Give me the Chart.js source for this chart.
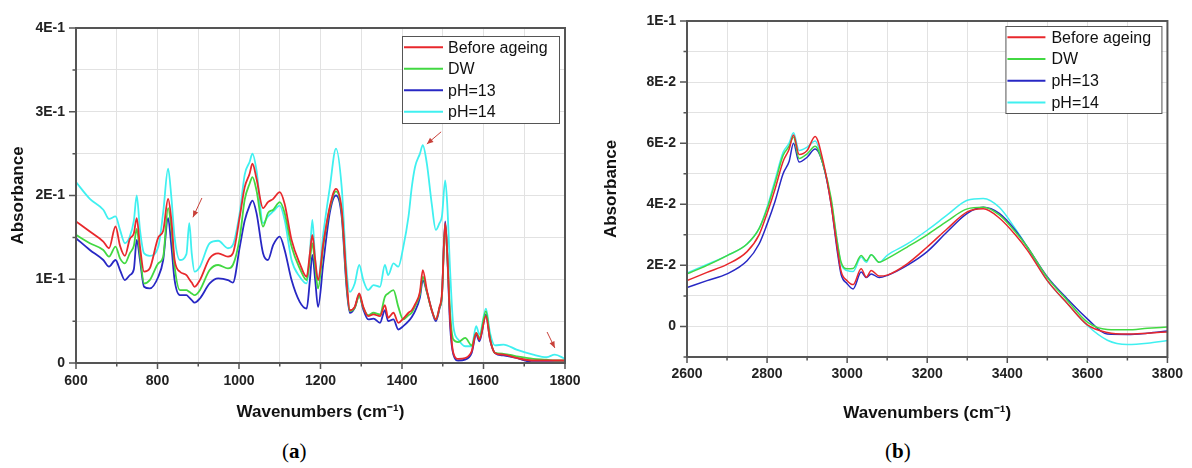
<!DOCTYPE html>
<html>
<head>
<meta charset="utf-8">
<script src="https://cdn.jsdelivr.net/npm/chart.js@4"></script>
<style>
  body { margin: 0; background: #fff; width: 1192px; height: 468px; position: relative; overflow: hidden; }
  canvas { position: absolute; top: 0; }
  #chartA { left: 0; }
  #chartB { left: 596px; }
  .cap { position: absolute; top: 439px; font-family: "Liberation Serif", "DejaVu Serif", serif; font-size: 21px; color: #000; }
</style>
</head>
<body>
<canvas id="chartA" width="596" height="430"></canvas>
<canvas id="chartB" width="596" height="430"></canvas>
<div class="cap" style="left:282px">(<b>a</b>)</div>
<div class="cap" style="left:885px">(<b>b</b>)</div>
<script>
// --- panel (a): 600-1800 cm-1 ---
const wnA = [600, 634, 667, 681, 697, 708, 720, 732, 742, 749, 757, 767, 781, 802, 814, 826, 834, 842, 855, 871,
  878, 884, 891, 904, 928, 949, 973, 985, 1002, 1014, 1026, 1033, 1043, 1059, 1071, 1084, 1100, 1112, 1129, 1149,
  1166, 1174, 1180, 1187, 1194, 1207, 1223, 1238, 1252, 1264, 1272, 1284, 1295, 1305, 1317, 1330, 1346, 1358, 1366, 1379,
  1391, 1403, 1416, 1424, 1432, 1444, 1451, 1461, 1473, 1483, 1492, 1498, 1506, 1511, 1518, 1526, 1538, 1555, 1571, 1582,
  1590, 1606, 1616, 1628, 1649, 1681, 1722, 1755, 1775, 1800];
const beforeA = [0.169, 0.157, 0.145, 0.137, 0.163, 0.140, 0.128, 0.148, 0.155, 0.173, 0.139, 0.109, 0.113, 0.150, 0.158, 0.196, 0.171, 0.123, 0.109, 0.105,
  0.100, 0.096, 0.091, 0.099, 0.125, 0.131, 0.127, 0.131, 0.175, 0.210, 0.226, 0.238, 0.220, 0.185, 0.192, 0.196, 0.204, 0.190, 0.147, 0.119,
  0.103, 0.131, 0.153, 0.123, 0.099, 0.143, 0.187, 0.208, 0.183, 0.099, 0.063, 0.067, 0.083, 0.067, 0.056, 0.058, 0.056, 0.069, 0.054, 0.060,
  0.048, 0.053, 0.060, 0.063, 0.070, 0.085, 0.111, 0.087, 0.063, 0.052, 0.067, 0.083, 0.167, 0.131, 0.052, 0.012, 0.005, 0.006, 0.014, 0.036,
  0.028, 0.056, 0.028, 0.012, 0.010, 0.006, 0.003, 0.003, 0.003, 0.003];
const dwA = [0.153, 0.143, 0.135, 0.127, 0.139, 0.125, 0.119, 0.131, 0.140, 0.160, 0.130, 0.095, 0.099, 0.119, 0.127, 0.185, 0.160, 0.115, 0.087, 0.087,
  0.085, 0.083, 0.081, 0.087, 0.111, 0.117, 0.113, 0.117, 0.150, 0.195, 0.214, 0.222, 0.206, 0.163, 0.179, 0.183, 0.192, 0.179, 0.139, 0.113,
  0.099, 0.123, 0.143, 0.115, 0.089, 0.140, 0.185, 0.205, 0.180, 0.095, 0.062, 0.066, 0.080, 0.066, 0.057, 0.060, 0.058, 0.079, 0.083, 0.087,
  0.067, 0.052, 0.057, 0.060, 0.068, 0.082, 0.103, 0.085, 0.063, 0.052, 0.066, 0.080, 0.165, 0.130, 0.060, 0.028, 0.025, 0.030, 0.021, 0.036,
  0.030, 0.062, 0.030, 0.012, 0.011, 0.008, 0.005, 0.004, 0.003, 0.003];
const ph13A = [0.149, 0.135, 0.123, 0.115, 0.123, 0.111, 0.099, 0.105, 0.112, 0.147, 0.123, 0.091, 0.089, 0.103, 0.123, 0.173, 0.140, 0.099, 0.081, 0.081,
  0.078, 0.075, 0.072, 0.077, 0.095, 0.101, 0.099, 0.096, 0.139, 0.170, 0.188, 0.194, 0.179, 0.131, 0.123, 0.141, 0.151, 0.135, 0.099, 0.073,
  0.065, 0.099, 0.129, 0.099, 0.067, 0.120, 0.180, 0.200, 0.175, 0.090, 0.060, 0.066, 0.081, 0.064, 0.052, 0.053, 0.048, 0.063, 0.050, 0.052,
  0.040, 0.044, 0.050, 0.055, 0.062, 0.078, 0.099, 0.085, 0.063, 0.050, 0.065, 0.080, 0.169, 0.130, 0.045, 0.010, 0.003, 0.004, 0.012, 0.034,
  0.026, 0.058, 0.028, 0.012, 0.009, 0.006, 0.001, 0.001, 0.001, 0.001];
const ph14A = [0.216, 0.196, 0.183, 0.172, 0.175, 0.159, 0.143, 0.151, 0.170, 0.200, 0.159, 0.131, 0.128, 0.139, 0.180, 0.232, 0.198, 0.150, 0.123, 0.130,
  0.167, 0.131, 0.109, 0.115, 0.143, 0.146, 0.137, 0.141, 0.180, 0.225, 0.240, 0.250, 0.230, 0.167, 0.175, 0.181, 0.188, 0.171, 0.123, 0.103,
  0.095, 0.131, 0.171, 0.123, 0.099, 0.155, 0.210, 0.256, 0.210, 0.111, 0.085, 0.095, 0.117, 0.099, 0.087, 0.093, 0.091, 0.117, 0.105, 0.119,
  0.115, 0.138, 0.175, 0.210, 0.234, 0.250, 0.260, 0.238, 0.190, 0.159, 0.167, 0.175, 0.218, 0.190, 0.111, 0.044, 0.028, 0.020, 0.020, 0.044,
  0.034, 0.065, 0.036, 0.021, 0.022, 0.016, 0.010, 0.007, 0.010, 0.005];

// --- panel (b): 2600-3800 cm-1 ---
const wnB = [2600, 2650, 2700, 2750, 2780, 2800, 2820, 2840, 2855, 2866, 2880, 2900, 2920, 2940, 2960, 2975, 2985, 3000, 3015, 3035,
  3048, 3060, 3080, 3100, 3150, 3200, 3250, 3300, 3340, 3380, 3420, 3450, 3500, 3550, 3600, 3650, 3700, 3750, 3800];
const beforeB = [0.0150, 0.0177, 0.0203, 0.0245, 0.0300, 0.0370, 0.0450, 0.0540, 0.0580, 0.0627, 0.0563, 0.0576, 0.0622, 0.0540, 0.0400, 0.0260, 0.0180, 0.0150, 0.0137, 0.0189,
  0.0161, 0.0183, 0.0165, 0.0168, 0.0205, 0.0260, 0.0320, 0.0375, 0.0385, 0.0355, 0.0300, 0.0250, 0.0150, 0.0075, 0.0005, -0.0020, -0.0025, -0.0022, -0.0018];
const dwB = [0.0172, 0.0200, 0.0232, 0.0270, 0.0320, 0.0385, 0.0470, 0.0560, 0.0590, 0.0620, 0.0550, 0.0565, 0.0590, 0.0530, 0.0420, 0.0280, 0.0210, 0.0189, 0.0190, 0.0232,
  0.0215, 0.0235, 0.0210, 0.0222, 0.0260, 0.0300, 0.0345, 0.0385, 0.0390, 0.0365, 0.0310, 0.0260, 0.0160, 0.0085, 0.0014, -0.0010, -0.0011, -0.0006, -0.0002];
const ph13B = [0.0127, 0.0150, 0.0172, 0.0215, 0.0270, 0.0335, 0.0410, 0.0500, 0.0540, 0.0600, 0.0538, 0.0554, 0.0581, 0.0530, 0.0400, 0.0250, 0.0170, 0.0140, 0.0123, 0.0178,
  0.0160, 0.0172, 0.0160, 0.0167, 0.0200, 0.0245, 0.0310, 0.0370, 0.0390, 0.0370, 0.0315, 0.0260, 0.0162, 0.0090, 0.0025, -0.0025, -0.0026, -0.0022, -0.0015];
const ph14B = [0.0175, 0.0203, 0.0232, 0.0270, 0.0320, 0.0390, 0.0480, 0.0570, 0.0600, 0.0634, 0.0576, 0.0587, 0.0607, 0.0530, 0.0410, 0.0280, 0.0205, 0.0183, 0.0180, 0.0227,
  0.0210, 0.0235, 0.0210, 0.0233, 0.0270, 0.0315, 0.0365, 0.0413, 0.0419, 0.0390, 0.0320, 0.0260, 0.0150, 0.0075, 0.0003, -0.0045, -0.0059, -0.0055, -0.0046];

const seriesNames = ['Before ageing', 'DW', 'pH=13', 'pH=14'];
const seriesColors = ['#e8282c', '#42d842', '#2828c4', '#40f0f0'];

const xTicksA = [600, 800, 1000, 1200, 1400, 1600, 1800];
const yTicksA = [0, 0.1, 0.2, 0.3, 0.4];
const yLabelsA = ['0', '1E-1', '2E-1', '3E-1', '4E-1'];
const xTicksB = [2600, 2800, 3000, 3200, 3400, 3600, 3800];
const yTicksB = [0, 0.02, 0.04, 0.06, 0.08, 0.1];
const yLabelsB = ['0', '2E-2', '4E-2', '6E-2', '8E-2', '1E-1'];

// red arrows in panel (a): [fromX, fromY, toX, toY] in data units
const arrowsA = [[909, 0.197, 887, 0.174], [1496, 0.276, 1461, 0.2615], [1756, 0.037, 1775, 0.018]];

function labelFor(v, ticks, labels) {
    const i = ticks.findIndex(t => Math.abs(t - v) < 1e-9);
    return i < 0 ? '' : labels[i];
}

// frame + outward major/minor tick marks
const frameTicks = {
    id: 'frameTicks',
    afterDatasetsDraw(chart) {
        const { ctx, chartArea: a, scales: { x, y } } = chart;
        ctx.save();
        ctx.strokeStyle = '#555';
        ctx.lineWidth = 1.5;
        ctx.beginPath();
        x.ticks.forEach(t => {
            const p = x.getPixelForValue(t.value);
            ctx.moveTo(p, a.bottom);
            ctx.lineTo(p, a.bottom + (t.label ? 6 : 3.5));
        });
        y.ticks.forEach(t => {
            const p = y.getPixelForValue(t.value);
            ctx.moveTo(a.left, p);
            ctx.lineTo(a.left - (t.label ? 7 : 3.5), p);
        });
        ctx.stroke();
        ctx.lineWidth = 2;
        ctx.strokeRect(a.left, a.top, a.right - a.left, a.bottom - a.top);
        ctx.restore();
    }
};

// boxed legend inside the plot, top right
const boxLegend = {
    id: 'boxLegend',
    afterDraw(chart, args, o) {
        const { ctx, chartArea: a } = chart;
        const x0 = a.right - o.right - o.width, y0 = a.top + o.top;
        ctx.save();
        ctx.fillStyle = '#fff';
        ctx.fillRect(x0, y0, o.width, o.height);
        ctx.strokeStyle = '#555';
        ctx.lineWidth = 1;
        ctx.strokeRect(x0 + 0.5, y0 + 0.5, o.width, o.height);
        ctx.font = '16px "Liberation Sans", Arial, sans-serif';
        ctx.textBaseline = 'middle';
        chart.data.datasets.forEach((ds, i) => {
            const yy = y0 + o.first + i * o.row;
            ctx.strokeStyle = ds.borderColor;
            ctx.lineWidth = 2;
            ctx.beginPath();
            ctx.moveTo(x0 + 2, yy);
            ctx.lineTo(x0 + 2 + o.line, yy);
            ctx.stroke();
            ctx.fillStyle = '#111';
            ctx.fillText(ds.label, x0 + o.text, yy + 1);
        });
        ctx.restore();
    }
};

const arrowNotes = {
    id: 'arrowNotes',
    afterDatasetsDraw(chart, args, o) {
        if (!o.list || !o.list.length) return;
        const { ctx, scales: { x, y } } = chart;
        ctx.save();
        ctx.strokeStyle = o.color;
        ctx.fillStyle = o.color;
        ctx.lineWidth = 1;
        o.list.forEach(([x1, y1, x2, y2]) => {
            const ax = x.getPixelForValue(x1), ay = y.getPixelForValue(y1);
            const bx = x.getPixelForValue(x2), by = y.getPixelForValue(y2);
            const ang = Math.atan2(by - ay, bx - ax);
            ctx.beginPath();
            ctx.moveTo(ax, ay);
            ctx.lineTo(bx, by);
            ctx.stroke();
            ctx.beginPath();
            ctx.moveTo(bx, by);
            ctx.lineTo(bx - 7 * Math.cos(ang - 0.4), by - 7 * Math.sin(ang - 0.4));
            ctx.lineTo(bx - 7 * Math.cos(ang + 0.4), by - 7 * Math.sin(ang + 0.4));
            ctx.closePath();
            ctx.fill();
        });
        ctx.restore();
    }
};

function makePanel(id, p) {
    const ctx = document.getElementById(id).getContext('2d');
    return new Chart(ctx, {
        type: 'line',
        data: {
            datasets: p.series.map((vals, i) => ({
                label: seriesNames[i],
                data: vals.map((v, j) => ({ x: p.wn[j], y: v })),
                borderColor: seriesColors[i],
                borderWidth: p.lineWidth,
                pointRadius: 0,
                fill: false,
                cubicInterpolationMode: 'monotone'
            }))
        },
        options: {
            responsive: false,
            animation: false,
            events: [],
            layout: { padding: p.padding },
            scales: {
                x: {
                    type: 'linear',
                    min: p.xMin, max: p.xMax,
                    afterFit: s => { s.height = p.xHeight; },
                    border: { display: false },
                    grid: { color: '#e2e2e2', lineWidth: 1, drawTicks: false },
                    ticks: {
                        stepSize: 100,
                        padding: p.xPad,
                        autoSkip: false,
                        maxRotation: 0,
                        color: '#222',
                        font: { family: '"Liberation Sans", Arial, sans-serif', size: 14, weight: 'bold' },
                        callback: v => labelFor(v, p.xTicks, p.xTicks.map(String))
                    },
                    title: {
                        display: true,
                        text: 'Wavenumbers (cm\u207B\u00B9)',
                        color: '#111',
                        padding: { top: 0, bottom: p.xTitlePad },
                        font: { family: '"Liberation Sans", Arial, sans-serif', size: 17, weight: 'bold' }
                    }
                },
                y: {
                    min: p.yMin, max: p.yMax,
                    afterFit: s => { s.width = p.yWidth; },
                    border: { display: false },
                    grid: { color: '#e2e2e2', lineWidth: 1, drawTicks: false },
                    ticks: {
                        stepSize: p.yStep,
                        padding: 11,
                        autoSkip: false,
                        color: '#222',
                        font: { family: '"Liberation Sans", Arial, sans-serif', size: 14, weight: 'bold' },
                        callback: v => labelFor(v, p.yTicks, p.yLabels)
                    },
                    title: {
                        display: true,
                        text: 'Absorbance',
                        color: '#111',
                        padding: { top: p.yTitlePad, bottom: 0 },
                        font: { family: '"Liberation Sans", Arial, sans-serif', size: 17, weight: 'bold' }
                    }
                }
            },
            plugins: {
                legend: { display: false },
                tooltip: { enabled: false },
                boxLegend: p.legend,
                arrowNotes: { list: p.arrows, color: '#c8413a' }
            }
        },
        plugins: [frameTicks, boxLegend, arrowNotes]
    });
}

makePanel('chartA', {
    wn: wnA, series: [beforeA, dwA, ph13A, ph14A], lineWidth: 1.8,
    xMin: 600, xMax: 1800, yMin: 0, yMax: 0.4, yStep: 0.05,
    xTicks: xTicksA, yTicks: yTicksA, yLabels: yLabelsA,
    padding: { left: 0, top: 28, right: 31, bottom: 0 },
    xHeight: 67, yWidth: 76, xPad: 10, xTitlePad: 7, yTitlePad: 8,
    legend: { right: 6, top: 8, width: 157, height: 87, first: 11.3, row: 21.5, line: 39, text: 46 },
    arrows: arrowsA
});

makePanel('chartB', {
    wn: wnB, series: [beforeB, dwB, ph13B, ph14B], lineWidth: 1.5,
    xMin: 2600, xMax: 3800, yMin: -0.01, yMax: 0.1, yStep: 0.01,
    xTicks: xTicksB, yTicks: yTicksB, yLabels: yLabelsB,
    padding: { left: 0, top: 21, right: 17, bottom: 0 },
    xHeight: 73, yWidth: 91, xPad: 9, xTitlePad: 6, yTitlePad: 5,
    legend: { right: 6, top: 5, width: 156, height: 87, first: 11.3, row: 21.7, line: 38, text: 46 },
    arrows: []
});
</script>
</body>
</html>
